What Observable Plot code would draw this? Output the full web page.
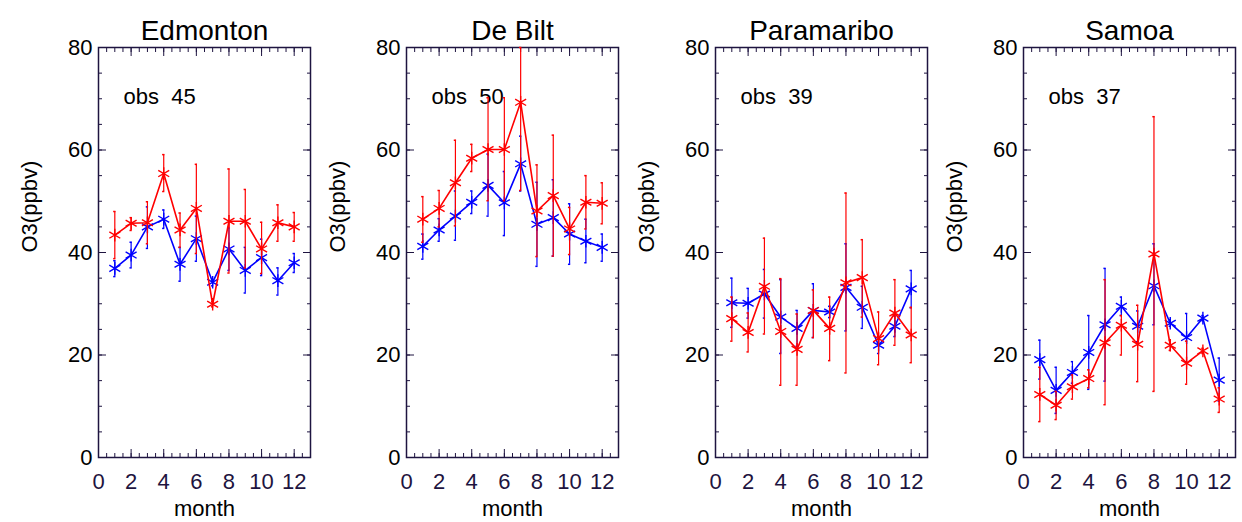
<!DOCTYPE html>
<html><head><meta charset="utf-8">
<script src="https://cdn.jsdelivr.net/npm/d3@7"></script>
<script src="https://cdn.jsdelivr.net/npm/@observablehq/plot@0.6"></script>
<style>
body{margin:0;background:#fff;font-family:"Liberation Sans",Arial,sans-serif;overflow:hidden}
#row{position:relative;width:1242px;height:522px}
#row svg{overflow:visible;position:absolute;top:0}
</style></head><body><div id="row"></div>
<script>
const months = [1,2,3,4,5,6,7,8,9,10,11,12];
const stations = ["Edmonton","De Bilt","Paramaribo","Samoa"];
const obsCounts = [45,50,39,37];
// red series: value, upper, lower
const redVal = [
 [43.4,45.7,45.8,55.4,44.4,48.6,29.9,46.1,46.1,40.7,45.8,45.0],
 [46.5,48.6,53.6,58.4,60.1,60.1,69.3,48.1,51.1,44.6,49.8,49.6],
 [27.1,24.4,33.4,24.6,21.1,28.7,25.2,34.1,35.1,23.2,28.2,23.9],
 [12.3,10.2,13.8,15.4,22.4,25.8,22.1,39.7,21.9,18.4,20.8,11.4]];
const redHi = [
 [48.0,46.8,49.9,59.1,47.7,57.2,30.4,56.3,52.3,45.9,49.3,47.8],
 [50.9,52.1,61.9,61.1,70.2,70.2,82.0,57.1,62.9,48.8,55.0,53.6],
 [31.3,28.2,42.8,34.9,28.0,32.7,31.3,51.6,42.5,28.4,34.7,29.3],
 [17.6,12.9,16.1,17.1,34.7,27.7,29.7,66.5,22.9,22.7,21.3,13.6]];
const redLo = [
 [38.8,44.3,41.7,51.9,41.0,39.8,29.4,36.0,37.0,35.9,42.2,42.2],
 [42.0,45.0,45.2,55.8,50.1,50.1,52.1,39.2,39.3,39.6,44.6,45.6],
 [22.7,20.6,24.1,14.1,14.1,23.4,18.9,16.5,27.4,18.1,21.9,18.5],
 [7.0,7.4,11.4,13.6,10.3,20.0,14.8,12.9,20.9,14.3,20.3,8.8]];
const blueVal = [
 [36.9,39.5,45.0,46.5,37.7,42.7,34.2,40.7,36.5,39.0,34.5,38.0],
 [41.2,44.4,47.1,49.8,53.1,49.7,57.3,45.5,46.8,43.6,42.2,41.0],
 [30.2,30.1,31.9,27.4,25.2,28.7,28.4,33.2,29.3,21.9,25.6,32.9],
 [19.1,13.1,16.6,20.5,25.9,29.5,25.6,33.5,26.2,23.4,27.2,15.1]];
const blueHi = [
 [38.4,42.0,48.9,48.3,41.0,47.1,34.7,44.8,41.0,42.6,37.0,39.8],
 [43.6,46.6,52.0,52.0,59.2,55.8,62.7,53.7,54.2,49.5,46.5,43.6],
 [35.0,33.0,36.7,34.7,28.7,33.9,29.5,41.7,33.4,23.6,27.6,36.5],
 [22.9,17.6,18.7,27.7,36.9,31.3,28.6,41.7,26.9,28.1,27.7,19.4]];
const blueLo = [
 [35.3,37.0,40.8,44.7,34.4,38.3,33.5,36.5,32.1,35.5,31.7,36.1],
 [38.7,42.2,42.4,47.6,47.1,43.3,52.0,37.3,39.3,37.7,38.0,38.3],
 [25.4,27.2,27.2,20.3,21.7,23.4,27.3,24.7,25.2,20.3,23.6,29.2],
 [15.3,8.6,14.5,13.3,14.9,27.7,22.6,25.9,25.6,18.7,26.7,11.0]];
const yMajor = [0,20,40,60,80];
const xMajor = [0,2,4,6,8,10,12];
const frameCol = "#1e1440";
const blank = () => "";

const row = document.getElementById("row");
stations.forEach((name, i) => {
  const rd = months.map((m,k)=>({m, v:redVal[i][k], hi:Math.min(redHi[i][k],80), lo:redLo[i][k]}));
  const bd = months.map((m,k)=>({m, v:blueVal[i][k], hi:blueHi[i][k], lo:blueLo[i][k]}));
  const cap = (d, c, key) => Plot.ruleY(d, {y:key, x1:d=>d.m-0.07, x2:d=>d.m+0.07, stroke:c, strokeWidth:1.5});
  const series = (d, c) => [
    Plot.ruleX(d, {x:"m", y1:"lo", y2:"hi", stroke:c, strokeWidth:1.2}),
    cap(d, c, "hi"), cap(d, c, "lo"),
    Plot.line(d, {x:"m", y:"v", stroke:c, strokeWidth:1.6}),
    Plot.dot(d, {x:"m", y:"v", symbol:"asterisk", stroke:c, r:6, strokeWidth:1.4})
  ];
  const minorY = d3.range(0,81,5), minorX = d3.range(0,13.01,0.5);
  const svg = Plot.plot({
    width:296, height:522,
    marginLeft:80, marginRight:4, marginTop:47, marginBottom:65,
    style:{fontFamily:"Liberation Sans, Arial, sans-serif", background:"white", overflow:"visible"},
    x:{domain:[0,13]},
    y:{domain:[0,80]},
    marks:[
      Plot.axisY({ticks:minorY, tickSize:-4, tickFormat:blank, stroke:frameCol, label:null}),
      Plot.axisY({anchor:"right", ticks:minorY, tickSize:-4, tickFormat:blank, stroke:frameCol, label:null}),
      Plot.axisY({ticks:yMajor, tickSize:-8, tickPadding:14, fontSize:22, fill:"black", stroke:frameCol, label:null}),
      Plot.axisY({anchor:"right", ticks:yMajor, tickSize:-8, tickFormat:blank, stroke:frameCol, label:null}),
      Plot.axisX({ticks:minorX, tickSize:-4, tickFormat:blank, stroke:frameCol, label:null}),
      Plot.axisX({anchor:"top", ticks:minorX, tickSize:-4, tickFormat:blank, stroke:frameCol, label:null}),
      Plot.axisX({ticks:xMajor, tickSize:-8, tickPadding:24, fontSize:22, fill:frameCol, stroke:frameCol, label:null}),
      Plot.axisX({anchor:"top", ticks:xMajor, tickSize:-8, tickFormat:blank, stroke:frameCol, label:null}),
      Plot.frame({stroke:frameCol, strokeWidth:1.5}),
      Plot.text([name], {frameAnchor:"top", dy:-27, fontSize:28, fill:"black"}),
      Plot.text(["month"], {frameAnchor:"bottom", dy:58, fontSize:22, fill:"black"}),
      Plot.text(["O3(ppbv)"], {frameAnchor:"left", dx:-69, rotate:-90, fontSize:22, fill:"black"}),
      Plot.text([`obs  ${obsCounts[i]}`], {frameAnchor:"top-left", dx:25, dy:41, textAnchor:"start", fontSize:22, fill:"black"}),
      ...series(bd, "#0000ff"),
      ...series(rd, "#ff0000")
    ]
  });
  svg.style.left = (18 + 308.3 * i) + "px";
  row.appendChild(svg);
});
</script></body></html>
